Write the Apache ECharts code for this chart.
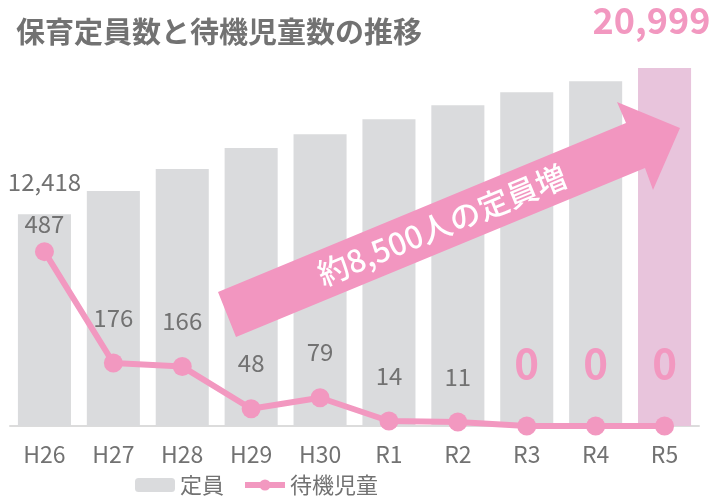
<!DOCTYPE html>
<html>
<head>
<meta charset="utf-8">
<script src="https://cdn.jsdelivr.net/npm/echarts@6/dist/echarts.min.js"></script>
<style>
  html, body { margin: 0; padding: 0; background: #fff; }
  #main { width: 711px; height: 499px; }
</style>
</head>
<body>
<div id="main"></div>
<script>
// 年度
const years = ['H26', 'H27', 'H28', 'H29', 'H30', 'R1', 'R2', 'R3', 'R4', 'R5'];
// 保育定員数
const capacity = [12418, 13780, 15070, 16300, 17120, 18000, 18820, 19580, 20230, 20999];
// 待機児童数
const waiting = [487, 176, 166, 48, 79, 14, 11, 0, 0, 0];

const FONT = '"Noto Sans CJK JP", "Noto Sans", sans-serif';
const GRAY = '#727272';
const PINK = '#F298C0';

function withComma(p) {
    return p.value.toString().replace(/\B(?=(\d{3})+(?!\d))/g, ',');
}

var myChart = echarts.init(document.getElementById('main'));

// 棒：最初と最後だけ数値を表示
const barData = capacity.map(function (v, i) {
    const last = i === capacity.length - 1;
    const item = {
        value: v,
        itemStyle: { color: last ? '#E8C4DC' : '#DADBDD' }
    };
    if (i === 0) {
        item.label = { show: true, position: 'top', distance: 20, color: GRAY, fontSize: 24, fontFamily: FONT, formatter: withComma };
    } else if (last) {
        item.label = { show: true, position: 'top', distance: 30, offset: [-13, 0], color: PINK, fontSize: 36, fontWeight: 'bold', fontFamily: FONT, formatter: withComma };
    }
    return item;
});

// 折れ線：0 はピンクで大きく
const lineData = waiting.map(function (v, i) {
    if (v === 0) {
        return { value: v, label: { color: PINK, fontSize: 42, fontWeight: 'bold', distance: 32 } };
    }
    return { value: v, label: { distance: i === 0 ? 6 : 24 } };
});

var option = {
    animation: false,
    title: {
        text: '保育定員数と待機児童数の推移',
        left: 16,
        top: 17,
        padding: 0,
        textStyle: { color: GRAY, fontSize: 29, fontWeight: 'bold', fontFamily: FONT }
    },
    legend: {
        data: [
            { name: '定員' },
            { name: '待機児童', lineStyle: { width: 6 } }
        ],
        left: 135,
        top: 472,
        padding: 0,
        itemWidth: 40,
        itemHeight: 14,
        itemGap: 18,
        textStyle: { color: GRAY, fontSize: 22, lineHeight: 26, fontFamily: FONT }
    },
    grid: { left: 10, right: 12, top: 68, bottom: 73, containLabel: false, outerBoundsMode: 'none' },
    xAxis: {
        type: 'category',
        data: years,
        axisLine: { lineStyle: { color: '#DCDCDC', width: 2 } },
        axisTick: { show: false },
        axisLabel: { color: GRAY, fontSize: 23, margin: 17, fontFamily: '"Liberation Sans Narrow", ' + FONT }
    },
    yAxis: [
        { type: 'value', min: 0, max: 21000, show: false, splitLine: { show: false } },
        { type: 'value', min: 0, max: 1000, show: false, splitLine: { show: false } }
    ],
    series: [
        {
            name: '定員',
            type: 'bar',
            data: barData,
            barCategoryGap: '23%',
            itemStyle: { color: '#DADBDD' },
            z: 1
        },
        {
            name: '待機児童',
            type: 'line',
            yAxisIndex: 1,
            data: lineData,
            symbol: 'circle',
            symbolSize: 19,
            lineStyle: { color: PINK, width: 6 },
            itemStyle: { color: PINK },
            label: { show: true, position: 'top', color: GRAY, fontSize: 24, fontFamily: FONT },
            z: 5
        }
    ],
    graphic: [
        {
            type: 'polygon',
            z: 3,
            shape: { points: [[218, 292], [236, 337], [645, 168], [653, 190], [680, 128], [617, 102], [626, 123]] },
            style: { fill: '#F296C0' }
        },
        {
            type: 'text',
            z: 4,
            x: 442,
            y: 225,
            rotation: 22.4 * Math.PI / 180,
            style: {
                text: '約8,500人の定員増',
                fill: '#fff',
                font: '500 31px ' + FONT,
                align: 'center',
                verticalAlign: 'middle'
            }
        }
    ]
};

myChart.setOption(option);
</script>
</body>
</html>
